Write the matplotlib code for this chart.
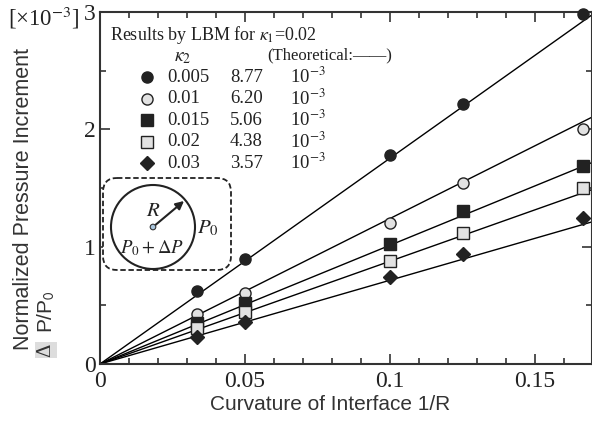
import matplotlib
matplotlib.use("Agg")
import numpy as np
import matplotlib.pyplot as plt
from matplotlib.patches import FancyBboxPatch, Circle
from matplotlib.ticker import MultipleLocator

# curvature 1/R of the simulated droplets
curv = [1/30, 1/20, 1/10, 1/8, 1/6]

# LBM results, dP/P0 in units of 1e-3
kappa2 = ["0.005", "0.01", "0.015", "0.02", "0.03"]
sigma = [8.77, 6.20, 5.06, 4.38, 3.57]          # surface tension, x1e-3
lbm = [
    [0.62, 0.895, 1.78, 2.22, 2.98],
    [0.43, 0.605, 1.20, 1.54, 2.00],
    [0.35, 0.52, 1.02, 1.30, 1.69],
    [0.31, 0.44, 0.88, 1.12, 1.50],
    [0.23, 0.36, 0.74, 0.94, 1.245],
]
markers = ["o", "o", "s", "s", "D"]
dark, light = "#222222", "#e2e2e2"
fills = [dark, light, dark, light, dark]
msize = [8, 8, 8, 8, 7]

W, H = 592, 426
serif = "Liberation Serif"
sans = "Liberation Sans"

def fx(px):
    return px / W

def fy(py):
    return 1 - py / H

fig = plt.figure(figsize=(W/100, H/100), dpi=100)
ax = fig.add_axes([fx(100), fy(364), (W - 100) / W, (364 - 12) / H])

xt = np.linspace(0, 0.17, 2)
for i in range(5):
    ax.plot(xt, 2 * sigma[i] * xt, color="black", lw=1.0)       # Laplace law
for i in range(5):
    ax.plot(curv, lbm[i], ls="none", marker=markers[i], ms=msize[i],
            mfc=fills[i], mec="#222222", mew=1.0, clip_on=False, zorder=5)

ax.set_xlim(0, 492 / 2900)
ax.set_ylim(0, 3)
ax.xaxis.set_minor_locator(MultipleLocator(0.01))
ax.yaxis.set_minor_locator(MultipleLocator(0.5))
ax.set_xticks([0, 0.05, 0.1, 0.15])
ax.set_xticklabels(["0", "0.05", "0.1", "0.15"])
ax.set_yticks([0, 1, 2, 3])
ax.set_yticklabels(["0", "1", "2", "3"])
ax.tick_params(which="both", direction="in", top=True, right=True,
               width=1.2, color="#333333")
ax.tick_params(which="major", length=7)
ax.tick_params(which="minor", length=4)
ax.tick_params(axis="x", pad=5)
ax.tick_params(axis="y", pad=3)
for lab in ax.get_xticklabels() + ax.get_yticklabels():
    lab.set_fontfamily(serif)
    lab.set_fontsize(17)
    lab.set_color("#222222")
for s in ax.spines.values():
    s.set_linewidth(1.5)
    s.set_color("#333333")

# axis labels
fig.text(fx(330), fy(405), "Curvature of Interface 1/R", family=sans,
         fontsize=15, ha="center", va="center", color="#333333")
fig.text(fx(24), fy(350), "Normalized Pressure Increment", family=sans,
         fontsize=15.5, rotation=90, ha="center", va="bottom", color="#333333")
fig.text(fx(46), fy(357), "\u0394", family=serif, fontsize=15, rotation=90,
         ha="center", va="bottom", color="#333333",
         bbox=dict(facecolor="#dddddd", edgecolor="none", pad=1))
fig.text(fx(46), fy(333), "P/P$_0$", family=sans, math_fontfamily="stixsans",
         fontsize=15, rotation=90, ha="center", va="bottom", color="#333333")
fig.text(fx(8), fy(18), "[\u00d710$^{-3}$]", family=serif,
         math_fontfamily="stix", fontsize=16.5, ha="left", va="center",
         color="#222222")

# legend table
fig.text(fx(110), fy(35), "Results by LBM for $\\kappa_1$=0.02", family=serif,
         math_fontfamily="stix", fontsize=13, ha="left", va="center",
         color="#222222")
fig.text(fx(183), fy(56), "$\\kappa_2$", math_fontfamily="stix", fontsize=14,
         ha="center", va="center", color="#222222")
fig.text(fx(267), fy(55), "(Theoretical:\u2014\u2014)", family=serif,
         fontsize=12, ha="left", va="center", color="#222222")
rows = [77, 98.5, 120, 141.5, 163]
for i in range(5):
    ax.plot([fx(147)], [fy(rows[i])], transform=fig.transFigure,
            marker=markers[i], ms=msize[i], mfc=fills[i], mec="#222222",
            mew=1.0, ls="none", clip_on=False)
    fig.text(fx(167), fy(rows[i]), kappa2[i], family=serif, fontsize=13.5,
             ha="left", va="center", color="#222222")
    fig.text(fx(230), fy(rows[i]), "%.2f" % sigma[i], family=serif,
             fontsize=13.5, ha="left", va="center", color="#222222")
    fig.text(fx(290), fy(rows[i]), "10$^{-3}$", family=serif,
             math_fontfamily="stix", fontsize=13.5, ha="left", va="center",
             color="#222222")

# inset sketch of the droplet, drawn in pixel units
ins = fig.add_axes([fx(100), fy(276), 136 / W, 100 / H])
ins.set_xlim(100, 236)
ins.set_ylim(276, 176)
ins.axis("off")
ins.add_patch(FancyBboxPatch((103, 178), 128, 92,
              boxstyle="round,pad=0,rounding_size=14", fc="white",
              ec="#222222", lw=1.3, ls=(0, (3, 1.5))))
ins.add_patch(Circle((153, 227), 42, fc="none", ec="#222222", lw=1.5))
ins.annotate("", xy=(184, 201), xytext=(153, 227),
             arrowprops=dict(arrowstyle="-|>", color="#222222", lw=1.5,
                             mutation_scale=12, shrinkA=0, shrinkB=0))
ins.add_patch(Circle((153, 227), 2.8, fc="#a9c6de", ec="#333333", lw=0.8,
                     zorder=5))
ins.text(153, 210, "$R$", math_fontfamily="stix", fontsize=15,
         ha="center", va="center", color="#222222")
ins.text(208, 228, "$P_0$", math_fontfamily="stix", fontsize=15,
         ha="center", va="center", color="#222222")
ins.text(152, 248, "$P_0+\\Delta P$", math_fontfamily="stix", fontsize=13.5,
         ha="center", va="center", color="#222222")

fig.savefig("out.png", dpi=100)
